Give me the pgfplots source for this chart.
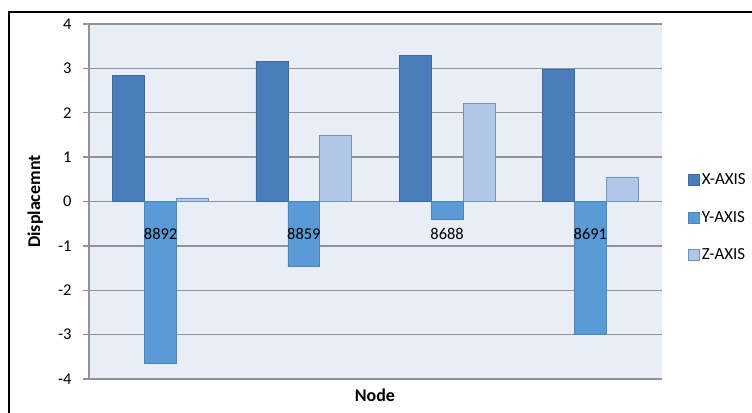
\documentclass[border=0pt]{standalone}
\usepackage{fontspec}
\setmainfont{Carlito}
\usepackage{pgfplots}
\pgfplotsset{compat=1.18}
\definecolor{xc}{HTML}{4A7EBB}
\definecolor{xe}{HTML}{3B6B9F}
\definecolor{yc}{HTML}{5B9BD5}
\definecolor{ye}{HTML}{4A85BD}
\definecolor{zc}{HTML}{B0C7E6}
\definecolor{ze}{HTML}{6F94C2}
\definecolor{bg}{HTML}{E9EDF6}
\definecolor{gridc}{HTML}{939393}
\begin{document}
\begin{tikzpicture}[x=1bp,y=1bp]
\path[use as bounding box] (0,0) rectangle (752,-412);
\draw[line width=1.6bp] (9,-440) -- (9,-12) -- (780,-12);
\begin{axis}[
  at={(89bp,-379bp)}, anchor=south west,
  scale only axis, width=573bp, height=355bp,
  font=\fontsize{16.5}{19}\selectfont,
  /pgf/number format/assume math mode=true,
  axis background/.style={fill=bg},
  axis x line=middle, axis y line=left,
  axis line style={-, gridc, line width=1.3bp},
  xmin=-0.5, xmax=3.5, ymin=-4, ymax=4,
  xtick={0,1,2,3}, xticklabels={},
  major x tick style={draw=none},
  ytick={-4,-3,...,4},
  ymajorgrids, grid style={gridc, line width=1.3bp},
  tick align=outside, major tick length=6bp,
  y tick style={gridc, line width=1.3bp},
  yticklabel style={xshift=-8bp},
  ybar=0pt, bar width=0.223,
  xlabel={\textbf{Node}}, ylabel={\textbf{Displacemnt}},
  label style={font=\fontsize{18}{21}\selectfont},
  xlabel style={at={(axis description cs:0.499,-0.045)}, anchor=center},
  ylabel style={at={(axis description cs:-0.094,0.5)}, anchor=center, rotate=0},
  legend style={at={(axis description cs:1.045,0.455)}, anchor=west, draw=none, fill=none,
    row sep=21bp, font=\fontsize{17}{20}\selectfont, inner sep=0pt},
  legend cell align=left,
  legend image code/.code={\draw[#1] (0bp,-5.5bp) rectangle (11bp,5.5bp);},
]
\addplot[fill=xc, draw=xe, line width=0.8bp] coordinates {(0,2.85) (1,3.15) (2,3.29) (3,2.97)};
\addplot[fill=yc, draw=ye, line width=0.8bp] coordinates {(0,-3.64) (1,-1.47) (2,-0.41) (3,-3.0)};
\addplot[fill=zc, draw=ze, line width=0.8bp] coordinates {(0,0.08) (1,1.50) (2,2.20) (3,0.54)};
\legend{X-AXIS,Y-AXIS,Z-AXIS}
\end{axis}
\begin{axis}[
  at={(89bp,-379bp)}, anchor=south west,
  scale only axis, width=573bp, height=355bp,
  font=\fontsize{16.5}{19}\selectfont,
  axis x line=middle, axis y line=none,
  x axis line style={draw=none},
  xmin=-0.5, xmax=3.5, ymin=-4, ymax=4,
  xtick={0,1,2,3}, xticklabels={8892,8859,8688,8691},
  major x tick style={draw=none},
  xticklabel style={yshift=-21bp},
  ytick=\empty,
]
\end{axis}
\end{tikzpicture}
\end{document}
